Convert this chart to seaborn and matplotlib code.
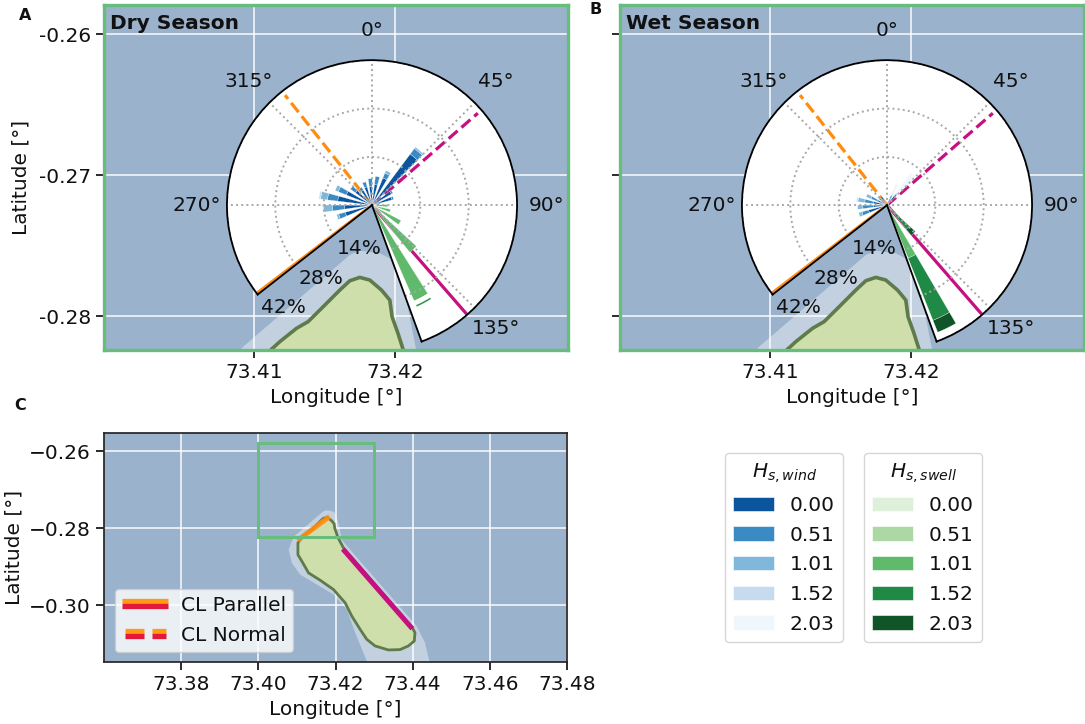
import numpy as np
import matplotlib
matplotlib.use("Agg")
import matplotlib.pyplot as plt
from matplotlib.patches import Patch, Rectangle, Polygon
from matplotlib.lines import Line2D
from matplotlib.legend_handler import HandlerBase
import seaborn as sns
import pandas as pd

# ---------- data ----------
island_lon = [73.41125,73.41184,73.41303,73.41385,73.41492,73.4161,73.41681,73.41752,73.41823,73.41906,73.41965,73.41981,73.42023,73.42059,
              73.42207,73.43991,73.4406,73.44043,73.43888,73.43672,73.43371,73.43026,73.4281,73.42638,73.42422,73.4225,73.41948,73.41603,73.41302,73.41129,73.41026,73.41026,73.41125]
island_lat = [-.28236,-.28182,-.28087,-.2804,-.27934,-.27816,-.2775,-.27726,-.27745,-.27816,-.27887,-.28005,-.28123,-.28236,
              -.28517,-.30586,-.30716,-.30931,-.3106,-.31155,-.31164,-.3106,-.30888,-.30629,-.30284,-.2994,-.29595,-.29353,-.29164,-.28862,-.2869,-.28388,-.28236]
reef_lon = [73.40914,73.41681,73.41752,73.41894,73.41988,73.42083,73.42164,73.42379,73.44103,73.44319,73.44431,73.44491,73.4294,73.4281,73.42509,73.42293,73.41948,73.41517,73.41086,73.40871,73.40784,73.40914]
reef_lat = [-.28226,-.27567,-.27537,-.27555,-.27603,-.27887,-.28302,-.2856,-.30543,-.30974,-.31448,-.3175,-.3175,-.31448,-.30716,-.30112,-.29724,-.29466,-.29207,-.28905,-.2856,-.28226]
parallel_orange_lon = [73.41017, 73.41845]
parallel_orange_lat = [-.28319, -.27698]
parallel_magenta_lon = [73.42190, 73.43991]
parallel_magenta_lat = [-.28543, -.30612]

bearing_orange = 232.6
bearing_orange_normal = 321.7
bearing_magenta = 139
bearing_magenta_normal = 49
sector_min, sector_max = -128, 160
radial_ticks = [14, 28, 42]
radial_labels = ["14%", "28%", "42%"]
theta_ticks = [-90, -45, 0, 45, 90, 135]
theta_labels = ["270°", "315°", "0°", "45°", "90°", "135°"]

shade_labels = ["0.00", "0.51", "1.01", "1.52", "2.03"]

wind_dry_dirs = [251,266,281,296,311,326,341,356,11,26,41,56,71,86]
wind_dry_000 = [8,8,10,8,6,5,5.5,5.5,6,8.5,18.5,6.5,6,2]
wind_dry_051 = [2,3.5,3,2.5,1.8,1,1.5,2.2,2.4,1.5,2,.5,.5,0]
wind_dry_101 = [.6,2.5,2,1,0,0,0,0,0,.8,.5,0,0,0]
wind_dry_152 = [0,.3,.5,0,0,0,0,0,0,0,0,0,0,0]
wind_dry_203 = [0]*14

swell_dry_dirs = [77,92,107,122,137,152]
swell_dry_000 = [.2,.2,.2,.2,.2,.2]
swell_dry_051 = [.8,.8,.8,.8,.8,.8]
swell_dry_101 = [1.5,3.5,4.5,8.5,16.5,29.3]
swell_dry_spacer = [0,0,0,0,0,1.3]
swell_dry_152 = [0,0,0,0,0,.5]
swell_dry_203 = [0,0,0,0,0,0]

wind_wet_dirs = [251,266,281,296,311,326,26,41]
wind_wet_000 = [5.5,4,4,3,2,3,2,3.5]
wind_wet_051 = [2,3,2.5,2,1,0,1,.5]
wind_wet_101 = [1,1.5,2,1.5,0,0,.3,.3]
wind_wet_152 = [0,0,.4,0,0,0,.3,.3]
wind_wet_203 = [0,0,0,0,0,0,3,7]

swell_wet_dirs = [122,137,154]
swell_wet_000 = [.1,.1,.1]
swell_wet_051 = [.2,.3,.4]
swell_wet_101 = [.5,1,16]
swell_wet_152 = [0,7.5,19.4]
swell_wet_203 = [0,2.3,3.7]

wind_colors = ["#0b559f", "#3a8ac3", "#7fb8da", "#c6dbef", "#eff6fc"]
swell_colors = ["#dff0da", "#acd8a4", "#5fba6c", "#1f8a45", "#0f5528"]

# ---------- style ----------
FS = 14.5
sns.set_theme(style="ticks", rc={"font.size":FS, "axes.labelsize":FS, "xtick.labelsize":FS, "ytick.labelsize":FS,
    "legend.fontsize":FS, "axes.axisbelow":True, "text.color":"#111111", "axes.labelcolor":"#111111",
    "xtick.color":"#111111", "ytick.color":"#111111"})
plt.rcParams["font.family"] = ["DejaVu Sans"]
W, H = 1085, 724
fig = plt.figure(figsize=(W/100, H/100), dpi=100)
def rect(l, t, r, b):
    return [l/W, 1-b/H, (r-l)/W, (b-t)/H]

blues = sns.color_palette(wind_colors)
greens = sns.color_palette(swell_colors)
OCEAN = "#9ab2cc"; ISLAND = "#cfdfac"; COAST = "#5f7a4b"; FRAME = "#66bd7c"
ORANGE = "#ff8c0f"; MAGENTA = "#c7107f"; CRIMSON = "#e3193c"

def basemap(ax, coast_lw, grid_lw=1.4):
    ax.set_facecolor(OCEAN)
    ax.grid(True, color="white", lw=grid_lw, alpha=.75)
    ax.add_patch(Polygon(np.c_[reef_lon, reef_lat], closed=True, fc="white", ec="none", alpha=.4, zorder=2))
    ax.add_patch(Polygon(np.c_[island_lon, island_lat], closed=True, fc=ISLAND, ec="none", zorder=3))
    df = pd.DataFrame({"lon":island_lon, "lat":island_lat})
    sns.lineplot(data=df, x="lon", y="lat", ax=ax, sort=False, estimator=None, color=COAST, lw=coast_lw, zorder=4, legend=False)

def stacked(pax, dirs, layers, colors):
    th = np.deg2rad(dirs)
    bottom = np.zeros(len(dirs))
    for vals, c in zip(layers, colors):
        vals = np.asarray(vals, float)
        m = vals > 0
        pax.bar(th[m], vals[m], width=np.deg2rad(8.5), bottom=bottom[m], color=c, edgecolor="white", lw=.2, zorder=1.5)
        bottom += vals

def season(l, cx, cy, title, wind_dirs, wind, swell_dirs, swell, swell_cols, ylabels):
    r = l + 464
    ax = fig.add_axes(rect(l, 5, r, 350))
    basemap(ax, 2.6)
    ax.set_xlim(73.39936, 73.4323)
    ax.set_ylim(-0.28241, -0.25794)
    ax.set_xticks([73.41, 73.42]); ax.set_xticklabels(["73.41", "73.42"])
    ax.set_yticks([-0.26, -0.27, -0.28])
    if ylabels:
        ax.set_yticklabels(["-0.26", "-0.27", "-0.28"])
        ax.set_ylabel("Latitude [°]", labelpad=6)
    else:
        ax.set_yticklabels([]); ax.set_ylabel("")
    ax.set_xlabel("Longitude [°]")
    for s in ax.spines.values():
        s.set_color(FRAME); s.set_linewidth(2.4); s.set_zorder(6)
    ax.text(0.012, 0.945, title, transform=ax.transAxes, fontsize=FS, fontweight="bold", color="#111111", zorder=7, va="center")

    R = 145.5
    low = min(np.cos(np.deg2rad(sector_min)), np.cos(np.deg2rad(sector_max)))
    off = (1 + low)/2 * R
    pcy = cy - off
    pax = fig.add_axes(rect(cx-R, pcy-R, cx+R, pcy+R), projection="polar")
    pax.set_theta_zero_location("N"); pax.set_theta_direction(-1)
    pax.set_facecolor("white"); pax.patch.set_alpha(1)
    for d, rr, c, ls in [(bearing_orange, 42, ORANGE, "-"), (bearing_magenta, 42, MAGENTA, "-"),
                         (bearing_orange_normal, 40.6, ORANGE, "--"), (bearing_magenta_normal, 40.6, MAGENTA, "--")]:
        t = np.deg2rad(d)
        sns.lineplot(x=[t, t], y=[0, rr], ax=pax, sort=False, estimator=None, color=c, lw=2.3, linestyle=ls, zorder=1.2, legend=False)
    stacked(pax, wind_dirs, wind, blues)
    stacked(pax, swell_dirs, swell, swell_cols)
    pax.set_xlabel(""); pax.set_ylabel("")
    pax.set_rgrids(radial_ticks, radial_labels)
    pax.set_thetagrids(theta_ticks, theta_labels)
    pax.set_rlim(0, 42)
    pax.set_thetamin(sector_min); pax.set_thetamax(sector_max)
    pax.grid(True, color="0.66", ls=":", lw=1.4)
    pax.set_axisbelow(False)
    pax.tick_params(axis="x", pad=8.6, labelsize=FS)
    pax.tick_params(axis="y", labelsize=FS, length=0)
    for s in pax.spines.values():
        s.set_color("black"); s.set_linewidth(1.3); s.set_zorder(3)

season(104, 372, 205, "Dry Season", wind_dry_dirs,
       [wind_dry_000, wind_dry_051, wind_dry_101, wind_dry_152, wind_dry_203], swell_dry_dirs,
       [swell_dry_000, swell_dry_051, swell_dry_101, swell_dry_spacer, swell_dry_152, swell_dry_203],
       [greens[0], greens[1], greens[2], "white", greens[3], greens[4]], True)
season(620, 887, 205, "Wet Season", wind_wet_dirs,
       [wind_wet_000, wind_wet_051, wind_wet_101, wind_wet_152, wind_wet_203], swell_wet_dirs,
       [swell_wet_000, swell_wet_051, swell_wet_101, swell_wet_152, swell_wet_203], greens, False)

# ---------- panel C ----------
axc = fig.add_axes(rect(104, 433, 567, 662))
basemap(axc, 2.0)
axc.set_xlim(73.36, 73.48); axc.set_ylim(-0.31477, -0.2553)
axc.set_xticks([73.38,73.40,73.42,73.44,73.46,73.48])
axc.set_xticklabels(["73.38","73.40","73.42","73.44","73.46","73.48"])
axc.set_yticks([-0.26,-0.28,-0.30]); axc.set_yticklabels(["−0.26","−0.28","−0.30"])
axc.set_xlabel("Longitude [°]"); axc.set_ylabel("Latitude [°]", labelpad=4)
axc.plot(parallel_orange_lon, parallel_orange_lat, color=ORANGE, lw=3.6, solid_capstyle="butt", zorder=5, alpha=.9)
axc.plot(parallel_magenta_lon, parallel_magenta_lat, color=MAGENTA, lw=3.6, solid_capstyle="butt", zorder=5)
axc.add_patch(Rectangle((73.40, -0.2824), 0.0300, 0.0244, fc="none", ec=FRAME, lw=2.2, zorder=6))

class DoubleLine(HandlerBase):
    def __init__(self, dashed):
        super().__init__(); self.dashed = dashed
    def create_artists(self, legend, orig, xd, yd, w, h, fs, trans):
        out = []
        gap = 3.8
        for off, c in [(gap/2, "#ff9a12"), (-gap/2, CRIMSON)]:
            y = h/2 - yd + off
            if self.dashed:
                segs = [(-xd+0.06*w, -xd+0.48*w), (-xd+0.64*w, -xd+0.94*w)]
            else:
                segs = [(-xd, -xd+w)]
            for a, b in segs:
                out.append(Line2D([a, b], [y, y], color=c, lw=3.8, solid_capstyle="butt", transform=trans))
        return out
h1, h2 = Line2D([], []), Line2D([], [])
axc.legend([h1, h2], ["CL Parallel", "CL Normal"], handler_map={h1:DoubleLine(False), h2:DoubleLine(True)},
           loc="lower left", bbox_to_anchor=(0.024, 0.044), borderaxespad=0, handlelength=2.3, handletextpad=.62, fontsize=FS,
           labelspacing=.55, frameon=True, facecolor="white", framealpha=.8, edgecolor="0.8", borderpad=.35)

# ---------- colour legends ----------
def shade_legend(l, colors, title):
    hs = [Patch(fc=c, ec="white", lw=.4) for c in colors]
    fig.legend(hs, shade_labels, title=title, loc="upper left", bbox_to_anchor=(l/W, 1-453/H), borderaxespad=0,
               fontsize=FS, title_fontsize=FS, handlelength=2.03, handleheight=.7, handletextpad=.78, labelspacing=.53,
               frameon=True, facecolor="white", framealpha=.8, edgecolor="0.8", borderpad=.41)
shade_legend(725, blues, r"$H_{s,wind}$")
shade_legend(864, greens, r"$H_{s,swell}$")

for letter, x, y in [("A", 25, 15), ("B", 596, 9), ("C", 20, 406)]:
    fig.text(x/W, 1-y/H, letter, fontsize=11.5, fontweight="bold", family="DejaVu Sans", ha="center", va="center")
fig.savefig("out.png", dpi=100)
